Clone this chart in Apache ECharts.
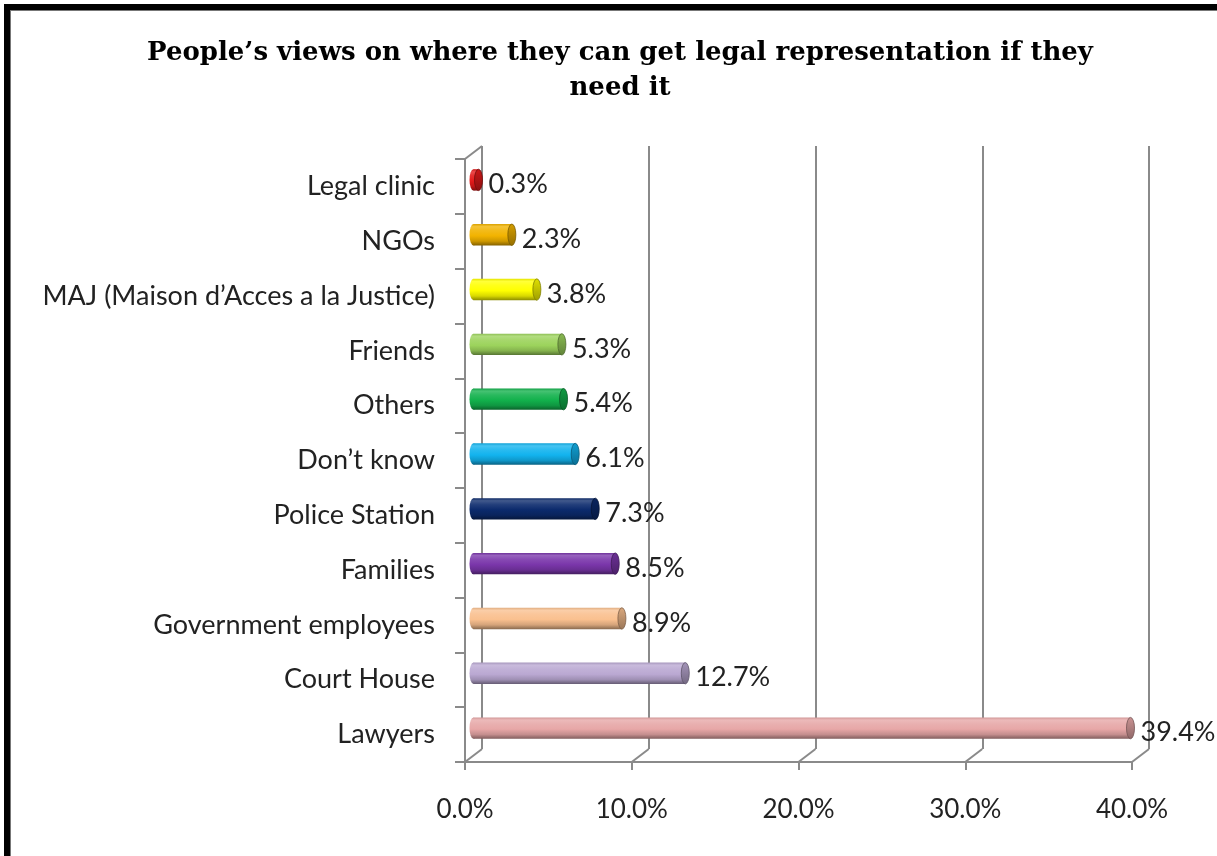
<!DOCTYPE html>
<html>
<head>
<meta charset="utf-8">
<script src="https://cdn.jsdelivr.net/npm/echarts@6/dist/echarts.min.js"></script>
<style>
  html, body { margin: 0; padding: 0; background: #fff; }
  #chart { width: 1217px; height: 856px; position: relative; }
  #frame {
    position: absolute; left: 4px; top: 4px; right: -10px; bottom: -10px;
    border-top: 6px solid #000; border-left: 6px solid #000;
    box-shadow: inset 1px 1px 0 #777;
    pointer-events: none;
  }
</style>
</head>
<body>
<div id="chart"></div>
<div id="frame"></div>
<script>
// Survey answers, listed top to bottom as they appear on the chart
const categories = [
  'Legal clinic', 'NGOs', 'MAJ (Maison d\u2019Acces a la Justice)', 'Friends', 'Others',
  'Don\u2019t know', 'Police Station', 'Families', 'Government employees', 'Court House', 'Lawyers'
];
const shares = [0.3, 2.3, 3.8, 5.3, 5.4, 6.1, 7.3, 8.5, 8.9, 12.7, 39.4];
const xTicks = [0, 10, 20, 30, 40];

// Cylinder colours, one per answer
const palette = [
  '#E41A1A', '#F2B300', '#FFFF00', '#9CD35C', '#12B14C',
  '#12B3EE', '#0B2A6C', '#7A36AA', '#F9C08F', '#BAA8D2', '#E7A7A7'
];

// Depth of the pseudo-3D box (back wall offset) and of the bars (mid-depth)
const WALL_DX = 17, WALL_DY = -13;
const BAR_DX = 8.5, BAR_DY = -6.5;

const gray = '#8a8a8a';
const textColor = '#222222';
const labelFont = 'Lato, "Liberation Sans", sans-serif';

function mix(hex, target, t) {
  const c = parseInt(hex.slice(1), 16);
  const r = (c >> 16) & 255, g = (c >> 8) & 255, b = c & 255;
  const tr = target === 'w' ? 255 : 0;
  const f = v => Math.round(v + (tr - v) * t);
  return 'rgb(' + f(r) + ',' + f(g) + ',' + f(b) + ')';
}

function bodyGradient(c) {
  return new echarts.graphic.LinearGradient(0, 0, 0, 1, [
    { offset: 0, color: mix(c, 'k', 0.1) },
    { offset: 0.12, color: mix(c, 'w', 0.22) },
    { offset: 0.3, color: mix(c, 'w', 0.1) },
    { offset: 0.55, color: c },
    { offset: 0.8, color: mix(c, 'k', 0.15) },
    { offset: 1, color: mix(c, 'k', 0.45) }
  ]);
}
function capGradient(c) {
  return new echarts.graphic.LinearGradient(0, 0, 0, 1, [
    { offset: 0, color: mix(c, 'k', 0.12) },
    { offset: 1, color: mix(c, 'k', 0.38) }
  ]);
}
const ELLIPSE = 'M0 1 A1 1 0 1 0 2 1 A1 1 0 1 0 0 1 Z';

function ellipse(cx, cy, rx, ry, style) {
  return { type: 'path',
    shape: { pathData: ELLIPSE, layout: 'cover', x: cx - rx, y: cy - ry, width: 2 * rx, height: 2 * ry },
    style: style };
}

function renderCylinder(params, api) {
  const v = api.value(0), idx = api.value(1);
  const c = palette[idx];
  const p0 = api.coord([0, idx]);
  const p1 = api.coord([v, idx]);
  const h = api.size([0, 1])[1] * 0.39;
  const ry = h / 2, rx = 4;
  const x0 = p0[0] + BAR_DX, x1 = p1[0] + BAR_DX, cy = p0[1] + BAR_DY;
  return {
    type: 'group',
    children: [
      ellipse(x0, cy, rx, ry, { fill: bodyGradient(c) }),
      { type: 'rect', shape: { x: x0, y: cy - ry, width: Math.max(x1 - x0, 0), height: h },
        style: { fill: bodyGradient(c) } },
      ellipse(x1, cy, rx, ry, { fill: capGradient(c), stroke: mix(c, 'k', 0.5), lineWidth: 0.8 }),
      { type: 'text', x: x1 + rx + 6, y: p0[1] - 2,
        style: { text: v.toFixed(1) + '%', fill: textColor, font: '27px ' + labelFont,
                 textAlign: 'left', textVerticalAlign: 'middle' } }
    ]
  };
}

function renderFloorEdges(params, api) {
  const cs = params.coordSys;
  const x = api.coord([api.value(0), 0])[0];
  const yb = cs.y + cs.height;
  const children = [
    { type: 'line', shape: { x1: x, y1: yb, x2: x + WALL_DX, y2: yb + WALL_DY },
      style: { stroke: gray, lineWidth: 2 } }
  ];
  if (params.dataIndex === 0) {
    children.push({ type: 'line',
      shape: { x1: cs.x, y1: cs.y, x2: cs.x + WALL_DX, y2: cs.y + WALL_DY },
      style: { stroke: gray, lineWidth: 2 } });
  }
  return { type: 'group', children };
}

const chart = echarts.init(document.getElementById('chart'), null, { renderer: 'canvas' });

const front = { left: 465, top: 159, width: 667, height: 603 };
const back = { left: front.left + WALL_DX, top: front.top + WALL_DY, width: front.width, height: front.height };

chart.setOption({
  backgroundColor: '#fff',
  animation: false,
  title: {
    text: 'People\u2019s views on where they can get legal representation if they\nneed it',
    left: 615, top: 31, textAlign: 'center',
    textStyle: { fontFamily: '"DejaVu Serif", serif', fontWeight: 'bold', fontSize: 26,
                 lineHeight: 35, color: '#000' }
  },
  grid: [
    Object.assign({ containLabel: false }, front),
    Object.assign({ containLabel: false }, back)
  ],
  xAxis: [
    { type: 'value', gridIndex: 0, min: 0, max: 40, interval: 10,
      axisLine: { show: true, lineStyle: { color: gray, width: 2 } },
      axisTick: { show: true, length: 8, lineStyle: { color: gray, width: 2 } },
      splitLine: { show: false },
      axisLabel: { margin: 35, color: textColor, fontFamily: labelFont, fontSize: 26,
                   formatter: v => v.toFixed(1) + '%' } },
    { type: 'value', gridIndex: 1, min: 0, max: 40, interval: 10,
      axisLine: { show: false }, axisTick: { show: false }, axisLabel: { show: false },
      splitLine: { show: true, showMinLine: true, showMaxLine: true, lineStyle: { color: gray, width: 2 } } }
  ],
  yAxis: [
    { type: 'category', gridIndex: 0, data: categories, inverse: true,
      axisLine: { show: true, lineStyle: { color: gray, width: 2 } },
      axisTick: { show: true, length: 10, lineStyle: { color: gray, width: 2 } },
      axisLabel: { margin: 30, color: textColor, fontFamily: labelFont, fontSize: 27 } },
    { type: 'category', gridIndex: 1, data: categories, inverse: true, show: false }
  ],
  series: [
    { type: 'custom', xAxisIndex: 0, yAxisIndex: 0, z: 2, clip: false,
      renderItem: renderFloorEdges, data: xTicks.map(v => [v]) },
    { type: 'custom', xAxisIndex: 0, yAxisIndex: 0, z: 5, clip: false,
      renderItem: renderCylinder, encode: { x: 0, y: 1 },
      data: shares.map((v, i) => [v, i]) }
  ]
});
</script>
</body>
</html>
